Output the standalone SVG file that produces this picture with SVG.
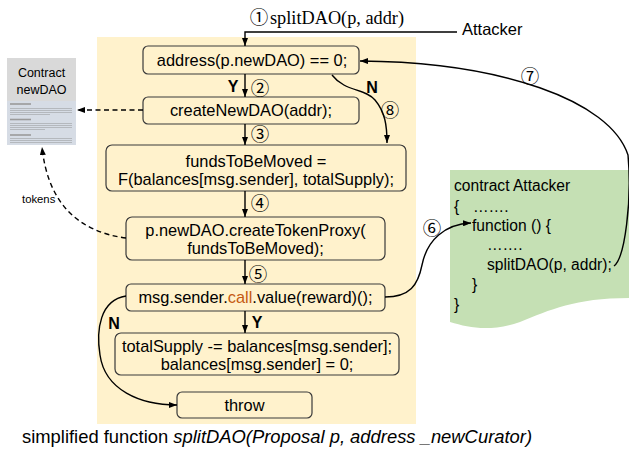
<svg xmlns="http://www.w3.org/2000/svg" width="629" height="452" viewBox="0 0 629 452">
<defs>
<marker id="ah" viewBox="0 0 8 6" refX="8" refY="3" markerWidth="8" markerHeight="6" markerUnits="userSpaceOnUse" orient="auto">
<path d="M0,0 L8,3 L0,6 z" fill="#000"/>
</marker>
</defs>
<style>
text{font-family:"Liberation Sans",Arial,sans-serif;fill:#000}
.box{fill:#fff2cc;stroke:#3a3a3a;stroke-width:1.2}
.t{font-size:16.4px;text-anchor:middle}
.g{font-size:15.6px}
.c{font-family:"Noto Sans CJK SC","DejaVu Sans",sans-serif;font-size:18.5px;text-anchor:middle}
.b{font-size:16px;font-weight:bold;text-anchor:middle}
.s{font-family:"Liberation Serif","Times New Roman",serif;font-size:18.3px}
.ln{fill:none;stroke:#000;stroke-width:1.4}
.ar{marker-end:url(#ah)}
.dash{stroke-dasharray:5,3.5}
.dl{stroke:#b4b8bd;stroke-width:1}
.dk{stroke:#9a9a9a;stroke-width:1.6}
</style>
<rect id="bg" x="97" y="37" width="319" height="387" fill="#fff2cc"/>

<g id="newDAO">
<rect x="7" y="58" width="69" height="43" fill="#d9d9d9"/>
<rect x="7" y="101" width="69" height="44" fill="#d6dce5"/>
<text x="41.5" y="77" font-size="12.5" text-anchor="middle">Contract</text>
<text x="41.5" y="94" font-size="12.5" text-anchor="middle">newDAO</text>
<line class="dk" x1="10" y1="104" x2="31" y2="104"/>
<line class="dl" x1="10" y1="108.5" x2="72" y2="108.5"/>
<line class="dl" x1="10" y1="110.5" x2="72" y2="110.5"/>
<line class="dl" x1="10" y1="112.5" x2="72" y2="112.5"/>
<line class="dl" x1="10" y1="114.5" x2="50" y2="114.5"/>
<line class="dk" x1="10" y1="119.5" x2="31" y2="119.5"/>
<line class="dl" x1="10" y1="123.5" x2="72" y2="123.5"/>
<line class="dl" x1="10" y1="125.5" x2="72" y2="125.5"/>
<line class="dl" x1="10" y1="127.5" x2="72" y2="127.5"/>
<line class="dl" x1="10" y1="129.5" x2="45" y2="129.5"/>
<line class="dk" x1="10" y1="135" x2="31" y2="135"/>
<line class="dl" x1="10" y1="138.5" x2="72" y2="138.5"/>
<line class="dl" x1="10" y1="140.5" x2="72" y2="140.5"/>
<line class="dl" x1="10" y1="142.5" x2="72" y2="142.5"/>
</g>

<g id="attackerContract">
<path d="M450,170 H629 V298 C575,298 550,310 520,322 C490,332 470,328 450,322 Z" fill="#c5e0b4"/>
<text class="g" x="454" y="191">contract Attacker</text>
<text class="g" x="454" y="212">{<tspan x="473">…….</tspan></text>
<text class="g" x="472" y="231">function () {</text>
<text class="g" x="487" y="250">…….</text>
<text class="g" x="487" y="270">splitDAO(p, addr);</text>
<text class="g" x="472" y="290">}</text>
<text class="g" x="454" y="310">}</text>
</g>

<g id="attacker">
<text x="462" y="35" font-size="16.5">Attacker</text>
</g>

<g id="n1">
<rect class="box" x="143" y="46" width="216" height="28" rx="5"/>
<text class="t" x="252" y="66">address(p.newDAO) == 0;</text>
</g>
<g id="n2">
<rect class="box" x="143" y="97" width="216" height="27" rx="5"/>
<text class="t" x="251" y="116">createNewDAO(addr);</text>
</g>
<g id="n3">
<rect class="box" x="106" y="145" width="300" height="46" rx="6"/>
<text class="t" x="256" y="167">fundsToBeMoved =</text>
<text class="t" x="256" y="185">F(balances[msg.sender], totalSupply);</text>
</g>
<g id="n4">
<rect class="box" x="126" y="217" width="259" height="43" rx="6"/>
<text class="t" x="255.5" y="236">p.newDAO.createTokenProxy(</text>
<text class="t" x="255.5" y="254">fundsToBeMoved);</text>
</g>
<g id="n5">
<rect class="box" x="126" y="284" width="259" height="27" rx="5"/>
<text class="t" x="255.5" y="303">msg.sender.<tspan fill="#c55a11">call</tspan>.value(reward)();</text>
</g>
<g id="n6">
<rect class="box" x="115" y="333" width="284" height="42" rx="6"/>
<text class="t" x="257" y="352">totalSupply -= balances[msg.sender];</text>
<text class="t" x="257" y="370">balances[msg.sender] = 0;</text>
</g>
<g id="n7">
<rect class="box" x="177" y="392" width="135" height="26" rx="5"/>
<text class="t" x="244.5" y="411">throw</text>
</g>

<g id="connectors">
<path class="ln ar" d="M457,32 H245 V46"/>
<path class="ln ar" d="M245,74 V97"/>
<path class="ln ar" d="M245,124 V145"/>
<path class="ln ar" d="M245,191 V217"/>
<path class="ln ar" d="M245,260 V284"/>
<path class="ln ar" d="M245,311 V333"/>
<path class="ln ar" d="M332,75 C345,92 365,88 375,100 C385,112 387,125 387,143"/>
<path class="ln ar" d="M126,296 C100,300 96,330 100,355 C105,390 140,405 177,405"/>
<path class="ln ar" d="M385,297 C410,297 418,285 422,265 C427,240 445,224 471,223"/>
<path class="ln ar" d="M614,266 C625,258 632,200 628,155 C610,100 500,62 360,61"/>
<path class="ln ar dash" d="M143,110 H77"/>
<path class="ln ar dash" d="M126,238 C80,232 48,205 42,147"/>
</g>

<g id="labels">
<text class="c" x="259" y="24">①</text>
<text class="s" x="270" y="24">splitDAO(p, addr)</text>
<text class="c" x="260" y="95">②</text>
<text class="c" x="260" y="141">③</text>
<text class="c" x="260" y="210">④</text>
<text class="c" x="258" y="281">⑤</text>
<text class="c" x="432" y="235">⑥</text>
<text class="c" x="530" y="83">⑦</text>
<text class="c" x="390" y="117">⑧</text>
<text class="b" x="233" y="92">Y</text>
<text class="b" x="257" y="328">Y</text>
<text class="b" x="372" y="93">N</text>
<text class="b" x="114" y="329">N</text>
<text x="22" y="203" font-size="11.3">tokens</text>
</g>

<text x="22" y="443" font-size="18.4">simplified function <tspan font-style="italic">splitDAO(Proposal p, address _newCurator)</tspan></text>
</svg>
